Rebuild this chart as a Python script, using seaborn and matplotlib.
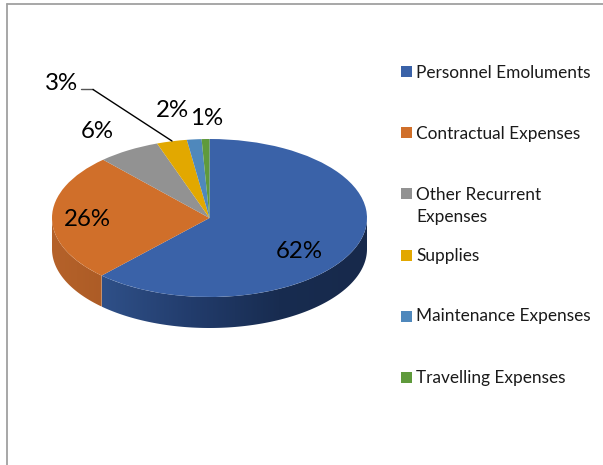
import numpy as np
import seaborn as sns
import matplotlib.pyplot as plt
from matplotlib.colors import LinearSegmentedColormap
from matplotlib.lines import Line2D
from matplotlib.patches import Polygon, Rectangle

W, H = 603, 465

categories = ["Personnel Emoluments", "Contractual Expenses", "Other Recurrent\nExpenses",
              "Supplies", "Maintenance Expenses", "Travelling Expenses"]
values = [62.0, 26.2, 6.4, 3.1, 1.5, 0.8]
pct_labels = ["62%", "26%", "6%", "3%", "2%", "1%"]
colors = ["#3A62A8", "#D06F2A", "#929292", "#E2A800", "#4F88BC", "#5F9A3C"]

# side wall shading, left end and right end of each visible slice
side_colors = {0: ["#2F5088", "#223C6C", "#182C50", "#17294B"], 1: ["#B5622A", "#AD5C26"]}

sns.set_theme(style="white")
plt.rcParams["font.family"] = ["Lato", "DejaVu Sans"]

fig = plt.figure(figsize=(W / 100, H / 100), dpi=100)
ax = fig.add_axes([0, 0, 1, 1])

ax.pie(values, colors=colors, startangle=90, counterclock=False, radius=1,
       wedgeprops={"linewidth": 0})

# pie gets squashed into an ellipse, centre at 210,218 px
rx, ry = 157.5, 79
cx, cy = 209.5, 218
depth = 31 / ry

# side wall: only the part of each slice on the front half
start = 0
for i, v in enumerate(values):
    end = start + v * 3.6
    lo, hi = max(start, 90), min(end, 270)
    if lo < hi:
        theta = np.radians(np.linspace(lo, hi, 200))
        x = np.sin(theta)
        y = np.cos(theta)
        outline = np.r_[np.c_[x, y], np.c_[x[::-1], y[::-1] - depth]]
        patch = Polygon(outline, closed=True, facecolor="none", edgecolor="none")
        ax.add_patch(patch)
        cmap = LinearSegmentedColormap.from_list("side", side_colors[i])
        img = ax.imshow(np.linspace(0, 1, 256).reshape(1, -1), cmap=cmap, aspect="auto",
                        extent=(x.min(), x.max(), (y - depth).min(), y.max()), zorder=0.5)
        img.set_clip_path(patch)
    start = end

ax.set_aspect("auto")
ax.set_xlim(-cx / rx, (W - cx) / rx)
ax.set_ylim(-(H - cy) / ry, cy / ry)


def fx(px):
    return px / W


def fy(py):
    return 1 - py / H


# slice labels
label_pos = [(299, 251.5), (87, 219.5), (97, 131.5), (61, 83), (172, 110.5), (207, 118.5)]
for txt, (px, py) in zip(pct_labels, label_pos):
    fig.text(fx(px), fy(py), txt, fontsize=17.3, color="black", ha="center", va="center")

# leader line for 3%
fig.add_artist(Line2D([fx(81), fx(93)], [fy(89.5), fy(89.5)], color="#555555", lw=1))
fig.add_artist(Line2D([fx(93), fx(172)], [fy(89.5), fy(141)], color="black", lw=1))

# legend, rows every 61 px
for i, (name, col) in enumerate(zip(categories, colors)):
    py = 72 + 61 * i
    fig.add_artist(Rectangle((fx(401), fy(py + 5.5)), 11 / W, 11 / H, color=col,
                             transform=fig.transFigure, linewidth=0))
    fig.text(fx(416), fy(py - 7.5), name, fontsize=12.4, color="#1a1a1a", ha="left", va="top",
             linespacing=1.48)

# chart border, only top and left show
fig.add_artist(Line2D([fx(7), fx(7)], [fy(4), 0], color="#A0A0A0", lw=1.3))
fig.add_artist(Line2D([fx(7), 1], [fy(4), fy(4)], color="#A0A0A0", lw=1.3))

fig.savefig("out.png", dpi=100)
